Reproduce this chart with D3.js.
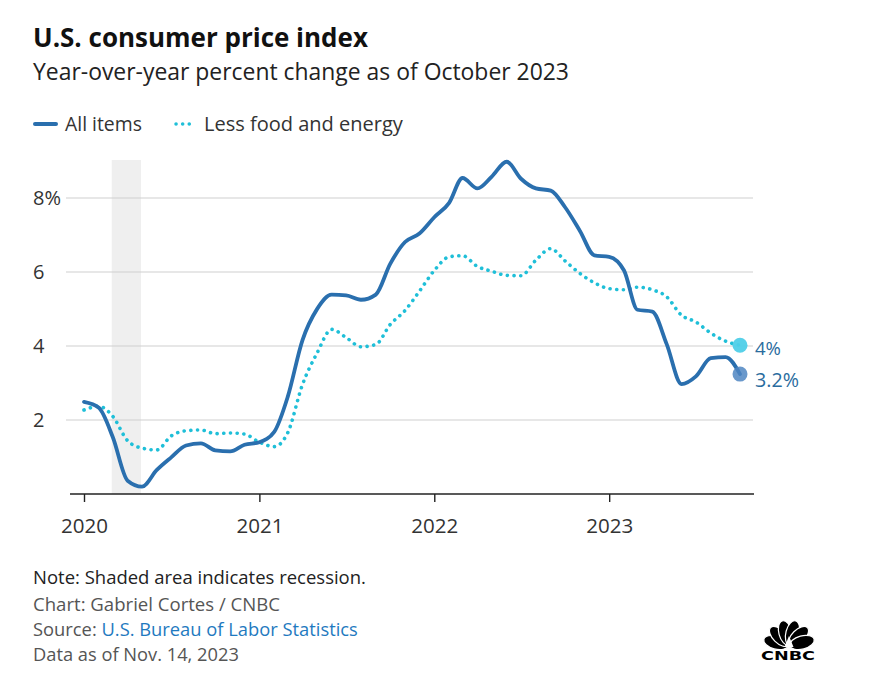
<!DOCTYPE html>
<html><head><meta charset="utf-8">
<script src="https://cdn.jsdelivr.net/npm/d3@7"></script>
<style>
body{margin:0;background:#fff;}
svg{display:block;font-family:"Open Sans",Lato,sans-serif;}
</style></head>
<body><svg id="c" width="876" height="673"></svg>
<script>
const allItems = [2.49,2.33,1.54,0.36,0.2,0.65,0.99,1.31,1.37,1.18,1.15,1.33,
  1.40,1.68,2.62,4.16,4.99,5.39,5.37,5.25,5.39,6.22,6.81,7.04,
  7.48,7.87,8.54,8.26,8.58,8.98,8.52,8.26,8.20,7.75,7.11,6.45,
  6.41,6.04,4.98,4.93,4.05,2.97,3.18,3.67,3.70,3.24];
const lessFoodEnergy = [2.27,2.37,2.10,1.44,1.24,1.19,1.57,1.71,1.73,1.63,1.65,1.62,
  1.40,1.28,1.65,2.96,3.80,4.45,4.23,3.98,4.04,4.58,4.96,5.48,
  6.04,6.41,6.44,6.15,6.02,5.91,5.90,6.32,6.63,6.30,5.96,5.71,
  5.55,5.52,5.59,5.52,5.33,4.83,4.65,4.35,4.13,4.02];
const yearTicks = ["2020","2021","2022","2023"];
const yTicks = [2,4,6,8];
const recession = ["2020-03-01","2020-05-01"];
const startMonth = "2020-01-01";
const endLabels = ["4%","3.2%"];

const parse = d3.utcParse("%Y-%m-%d");
const dates = d3.utcMonth.range(parse(startMonth), d3.utcMonth.offset(parse(startMonth), allItems.length));

const svg = d3.select("#c");
const x = d3.scaleUtc().domain([dates[0], dates[dates.length-1]]).range([84, 740]);
const y = d3.scaleLinear().domain([0, 8]).range([494, 198]);

const blue = "#2a6fae", cyan = "#1fbfd8";

// scale font-size so a text spans the width measured in the reference
function fit(sel, w){
  const n = sel.node();
  const cur = n.getComputedTextLength();
  const fs = parseFloat(sel.attr("font-size"));
  const nf = fs*w/cur;
  sel.attr("font-size", nf.toFixed(2));
  return nf;
}

// titles
fit(svg.append("text").attr("x",33).attr("y",47).attr("font-size",26).attr("font-weight",700)
  .attr("fill","#111").text("U.S. consumer price index"), 335);
fit(svg.append("text").attr("x",33).attr("y",80).attr("font-size",20)
  .attr("fill","#222").text("Year-over-year percent change as of October 2023"), 536);

// legend
const lg = svg.append("g");
lg.append("line").attr("x1",35).attr("x2",56).attr("y1",124).attr("y2",124)
  .attr("stroke",blue).attr("stroke-width",4).attr("stroke-linecap","round");
fit(lg.append("text").attr("x",65).attr("y",131).attr("font-size",18).attr("fill","#333").text("All items"), 77);
lg.append("line").attr("x1",176).attr("x2",190).attr("y1",124).attr("y2",124)
  .attr("stroke",cyan).attr("stroke-width",3.5).attr("stroke-linecap","round").attr("stroke-dasharray","0.1 6.5");
fit(lg.append("text").attr("x",204).attr("y",131).attr("font-size",18).attr("fill","#333").text("Less food and energy"), 199);

// recession
svg.append("rect").attr("x",x(parse(recession[0]))-1).attr("width",x(parse(recession[1]))-x(parse(recession[0])))
  .attr("y",160).attr("height",y(0)-160).attr("fill","#efefef");

// grid
const g = svg.append("g");
let yfs = null;
yTicks.slice().reverse().forEach(t=>{
  g.append("line").attr("x1",66).attr("x2",753).attr("y1",y(t)).attr("y2",y(t))
   .attr("stroke","#cfcfcf").attr("stroke-width",1);
  const tx = g.append("text").attr("x",33).attr("y",y(t)+6.5).attr("font-size",yfs||17).attr("fill","#333")
   .text(t===8 ? t+"%" : t);
  if(yfs===null) yfs = fit(tx, 28);
});

// x axis
const xAxis = d3.axisBottom(x).tickValues(yearTicks.map(s=>parse(s+"-01-01")))
  .tickFormat((d,i)=>yearTicks[i]).tickSize(8).tickPadding(16);
const ax = svg.append("g").attr("transform",`translate(0,${y(0)})`).call(xAxis);
ax.select(".domain").remove();
ax.selectAll(".tick line").attr("stroke","#222").attr("stroke-width",1.4);
ax.selectAll(".tick text").attr("font-size",18).attr("fill","#333").attr("font-family","'Open Sans',sans-serif");
const xfs = fit(ax.select(".tick text"), 47);
ax.selectAll(".tick text").attr("font-size", xfs.toFixed(2));
svg.append("line").attr("x1",70).attr("x2",754).attr("y1",y(0)).attr("y2",y(0))
  .attr("stroke","#222").attr("stroke-width",1.6);

// lines
const line = d3.line().x((d,i)=>x(dates[i])).y(d=>y(d)).curve(d3.curveMonotoneX);
svg.append("path").datum(lessFoodEnergy).attr("d",line).attr("fill","none")
  .attr("stroke",cyan).attr("stroke-width",3.6).attr("stroke-linecap","round").attr("stroke-dasharray","0.1 6.6");
svg.append("path").datum(allItems).attr("d",line).attr("fill","none")
  .attr("stroke",blue).attr("stroke-width",3.8).attr("stroke-linejoin","round").attr("stroke-linecap","round");

// end points
const n = allItems.length-1;
svg.append("circle").attr("cx",x(dates[n])).attr("cy",y(lessFoodEnergy[n])).attr("r",7.5).attr("fill","#4fcfe8").attr("opacity",0.95);
svg.append("circle").attr("cx",x(dates[n])).attr("cy",y(allItems[n])).attr("r",7.5).attr("fill","#4f86c2").attr("opacity",0.85);
fit(svg.append("text").attr("x",755).attr("y",y(lessFoodEnergy[n])+10).attr("font-size",18).attr("fill","#2a6c9e").text(endLabels[0]), 26);
fit(svg.append("text").attr("x",755).attr("y",y(allItems[n])+13).attr("font-size",18).attr("fill","#2a6c9e").text(endLabels[1]), 44);

// footer
fit(svg.append("text").attr("x",33).attr("y",584).attr("font-size",16).attr("fill","#222").text("Note: Shaded area indicates recession."), 333);
fit(svg.append("text").attr("x",33).attr("y",611).attr("font-size",16).attr("fill","#555").text("Chart: Gabriel Cortes / CNBC"), 247);
const src = svg.append("text").attr("x",33).attr("y",636).attr("font-size",16).attr("fill","#555");
src.append("tspan").text("Source: ");
src.append("tspan").attr("fill","#1f7ac0").text("U.S. Bureau of Labor Statistics");
fit(src, 325);
fit(svg.append("text").attr("x",33).attr("y",661).attr("font-size",16).attr("fill","#555").text("Data as of Nov. 14, 2023"), 206);

// CNBC logo
const logo = svg.append("g").attr("transform","translate(789,646)");
const angles = [-75,-45,-15,15,45,75];
angles.forEach(a=>{
  logo.append("ellipse").attr("cx",0).attr("cy",-13.5).attr("rx",6.6).attr("ry",12.5)
    .attr("transform",`rotate(${a})`).attr("fill","#000").attr("stroke","#fff").attr("stroke-width",1.2);
});
logo.append("path").attr("d","M-4.5,1 L0,-10 L4.5,1 Z").attr("fill","#fff");
logo.append("text").attr("x",-28).attr("y",14).attr("font-size",12)
  .attr("font-weight",900).attr("font-family","'DejaVu Sans',Arial,sans-serif").attr("fill","#000")
  .attr("textLength",54).attr("lengthAdjust","spacingAndGlyphs").text("CNBC");
</script></body></html>
